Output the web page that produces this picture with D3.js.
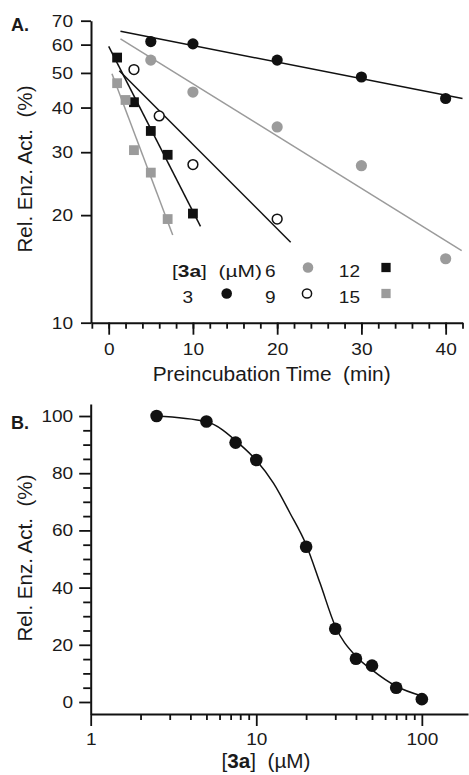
<!DOCTYPE html>
<html><head><meta charset="utf-8">
<script src="https://cdn.jsdelivr.net/npm/d3@7"></script>
<style>
body{margin:0;background:#fff}
svg{display:block}
text{font-family:"Liberation Sans",Arial,Helvetica,sans-serif;fill:#1a1a1a}
</style>
</head><body>
<svg id="chart" width="469" height="775"></svg>
<script>
// ---------- Panel A data ----------
const timeTicks = [0, 10, 20, 30, 40];
const timeMinorTicks = d3.range(-2, 43, 2);
const actTicksA = [10, 20, 30, 40, 50, 60, 70];
const concLabels = ["3", "6", "9", "12", "15"];
const seriesTime = [
  [5, 10, 20, 30, 40],
  [5, 10, 20, 30, 40],
  [3, 6, 10, 20],
  [1, 3, 5, 7, 10],
  [1, 2, 3, 5, 7]
];
const seriesAct = [
  [61.2, 60.3, 54.3, 48.7, 42.4],
  [54.3, 44.2, 35.3, 27.5, 15.1],
  [51.1, 37.9, 27.7, 19.5],
  [55.2, 41.4, 34.4, 29.5, 20.2],
  [46.8, 42.0, 30.4, 26.3, 19.5]
];
const fitStart = [[1.4, 65.4], [1.4, 62.3], [1.26, 50.7], [0, 59.3], [0.39, 49.7]];
const fitEnd   = [[42, 42.4], [41.9, 15.9], [21.6, 16.8], [10.9, 18.6], [7.6, 17.6]];

// ---------- Panel B data ----------
const doseTicks = [1, 10, 100];
const doseMinorTicks = [2,3,4,5,6,7,8,9,20,30,40,50,60,70,80,90];
const actTicksB = [0, 20, 40, 60, 80, 100];
const actMinorB = [5,10,15,25,30,35,45,50,55,65,70,75,85,90,95];
const doseConc = [2.5, 5, 7.5, 10, 20, 30, 40, 50, 70, 100];
const doseAct  = [100, 98.1, 90.7, 84.6, 54.3, 25.6, 15.1, 12.7, 5.0, 1.0];
const fitConc = [2.5, 5, 8, 10, 12.7, 16, 20, 24.3, 30, 40, 50, 70, 100];
const fitAct  = [100, 98, 90, 84.5, 76.5, 66, 55, 41.5, 26.5, 16, 11.2, 5.5, 2.1];

// ---------- styles ----------
const BLACK = "#111", GRAY = "#9b9b9b";
const markerStyle = [
  {shape: "circle", fill: BLACK, stroke: "none"},
  {shape: "circle", fill: GRAY, stroke: "none"},
  {shape: "circle", fill: "#fff", stroke: BLACK},
  {shape: "square", fill: BLACK, stroke: "none"},
  {shape: "square", fill: GRAY, stroke: "none"}
];
const lineColor = [BLACK, GRAY, BLACK, BLACK, GRAY];
const NUM_FS = 17, NUM_STRETCH = 1.12;

const svg = d3.select("#chart");

function stretch(sel, factor) {
  sel.each(function () {
    const w = this.getComputedTextLength();
    d3.select(this).attr("textLength", w * factor).attr("lengthAdjust", "spacingAndGlyphs");
  });
}
function fitWidth(sel, width) {
  sel.attr("textLength", width).attr("lengthAdjust", "spacingAndGlyphs");
}

function drawMarker(g, shape, x, y, st, r) {
  if (shape === "circle") {
    g.append("circle").attr("cx", x).attr("cy", y)
      .attr("r", st.stroke === "none" ? r : r - 0.7)
      .attr("fill", st.fill).attr("stroke", st.stroke).attr("stroke-width", 1.5);
  } else {
    const s = r * 1.75;
    g.append("rect").attr("x", x - s / 2).attr("y", y - s / 2)
      .attr("width", s).attr("height", s).attr("fill", st.fill);
  }
}
function styleNumText(sel) {
  sel.attr("font-size", NUM_FS).attr("fill", "#1a1a1a").attr("font-family", null);
  stretch(sel, NUM_STRETCH);
}

// ================= PANEL A =================
const xA = d3.scaleLinear().domain([-2.1, 42]).range([91, 462.5]);
const yA = d3.scaleLog().domain([10, 70]).range([322.7, 20.7]);

const gA = svg.append("g");
const axXA = gA.append("g").attr("transform", "translate(0,322.7)")
  .call(d3.axisBottom(xA).tickValues(timeMinorTicks).tickSize(6).tickFormat(""));
axXA.select(".domain").remove();
axXA.selectAll("line").attr("stroke-width", 1.8).attr("stroke", BLACK);
const axXA2 = gA.append("g").attr("transform", "translate(0,322.7)")
  .call(d3.axisBottom(xA).tickValues(timeTicks).tickSize(12).tickPadding(8).tickSizeOuter(0));
axXA2.select(".domain").attr("stroke-width", 2).attr("stroke", BLACK);
axXA2.selectAll("line").attr("stroke-width", 1.8).attr("stroke", BLACK);
styleNumText(axXA2.selectAll("text"));

const axYA = gA.append("g").attr("transform", "translate(91,0)")
  .call(d3.axisLeft(yA).tickValues(actTicksA).tickFormat(d3.format("d")).tickSize(10).tickPadding(8).tickSizeOuter(0));
axYA.select(".domain").attr("stroke-width", 2).attr("stroke", BLACK);
axYA.selectAll("line").attr("stroke-width", 1.8).attr("stroke", BLACK);
styleNumText(axYA.selectAll("text"));

const lineA = d3.line().x(d => xA(d[0])).y(d => yA(d[1]));
concLabels.forEach((c, i) => {
  gA.append("path").attr("d", lineA([fitStart[i], fitEnd[i]]))
    .attr("fill", "none").attr("stroke", lineColor[i]).attr("stroke-width", 1.5);
});
concLabels.forEach((c, i) => {
  const st = markerStyle[i];
  seriesTime[i].forEach((t, j) => {
    drawMarker(gA, st.shape, xA(t), yA(seriesAct[i][j]), st, 5.6);
  });
});

fitWidth(gA.append("text").attr("x", 271.7).attr("y", 381).attr("text-anchor", "middle")
  .attr("font-size", 20).text("Preincubation Time\u00a0\u00a0(min)"), 238);
fitWidth(gA.append("text").attr("transform", "translate(31.5,169) rotate(-90)").attr("text-anchor", "middle")
  .attr("font-size", 20).text("Rel. Enz. Act.\u00a0\u00a0(%)"), 167);
gA.append("text").attr("x", 11).attr("y", 31).attr("font-size", 18).attr("font-weight", "bold").text("A.");

// legend
const leg = gA.append("g");
const legHead = leg.append("text").attr("x", 172).attr("y", 277).attr("font-size", 17);
legHead.append("tspan").text("[");
legHead.append("tspan").attr("font-weight", "bold").text("3a");
legHead.append("tspan").text("]\u00a0\u00a0(\u00b5M)");
fitWidth(legHead, 90);
const legPos = [
  {tx: 193, mx: 226.7, y: 303},
  {tx: 275.5, mx: 308, y: 277},
  {tx: 275.5, mx: 307, y: 303},
  {tx: 360, mx: 386, y: 277},
  {tx: 360, mx: 386, y: 303}
];
concLabels.forEach((c, i) => {
  const p = legPos[i];
  const t = leg.append("text").attr("x", p.tx).attr("y", p.y).attr("text-anchor", "end").text(c);
  styleNumText(t);
  drawMarker(leg, markerStyle[i].shape, p.mx, p.y - 9.5, markerStyle[i], 5.3);
});

// ================= PANEL B =================
const xB = d3.scaleLog().domain([1, 190]).range([90.7, 468]);
const yB = d3.scaleLinear().domain([-4.2, 104.2]).range([714, 404]);
const gB = svg.append("g");

const axXBm = gB.append("g").attr("transform", "translate(0,714)")
  .call(d3.axisBottom(xB).tickValues(doseMinorTicks).tickSize(6).tickFormat(""));
axXBm.select(".domain").remove();
axXBm.selectAll("line").attr("stroke-width", 1.8).attr("stroke", BLACK);
const axXB = gB.append("g").attr("transform", "translate(0,714)")
  .call(d3.axisBottom(xB).tickValues(doseTicks).tickFormat(d3.format("d")).tickSize(12).tickPadding(7).tickSizeOuter(0));
axXB.select(".domain").attr("stroke-width", 2).attr("stroke", BLACK);
axXB.selectAll("line").attr("stroke-width", 1.8).attr("stroke", BLACK);
styleNumText(axXB.selectAll("text"));

const axYBm = gB.append("g").attr("transform", "translate(90.7,0)")
  .call(d3.axisLeft(yB).tickValues(actMinorB).tickSize(7.5).tickFormat(""));
axYBm.select(".domain").remove();
axYBm.selectAll("line").attr("stroke-width", 1.8).attr("stroke", BLACK);
const axYB = gB.append("g").attr("transform", "translate(90.7,0)")
  .call(d3.axisLeft(yB).tickValues(actTicksB).tickSize(11.5).tickPadding(6).tickSizeOuter(0));
axYB.select(".domain").attr("stroke-width", 2).attr("stroke", BLACK);
axYB.selectAll("line").attr("stroke-width", 1.8).attr("stroke", BLACK);
styleNumText(axYB.selectAll("text"));

const lineB = d3.line().x(d => xB(d[0])).y(d => yB(d[1])).curve(d3.curveMonotoneX);
gB.append("path").attr("d", lineB(fitConc.map((c, i) => [c, fitAct[i]])))
  .attr("fill", "none").attr("stroke", BLACK).attr("stroke-width", 1.5);
doseConc.forEach((c, i) => {
  gB.append("circle").attr("cx", xB(c)).attr("cy", yB(doseAct[i])).attr("r", 6.3).attr("fill", BLACK);
});

const xtB = gB.append("text").attr("x", 266).attr("y", 768).attr("text-anchor", "middle").attr("font-size", 20);
xtB.append("tspan").text("[");
xtB.append("tspan").attr("font-weight", "bold").text("3a");
xtB.append("tspan").text("]\u00a0\u00a0(\u00b5M)");
fitWidth(xtB, 89);
fitWidth(gB.append("text").attr("transform", "translate(31.5,558) rotate(-90)").attr("text-anchor", "middle")
  .attr("font-size", 20).text("Rel. Enz. Act.\u00a0\u00a0(%)"), 167);
gB.append("text").attr("x", 11).attr("y", 428.5).attr("font-size", 18).attr("font-weight", "bold").text("B.");
</script>
</body></html>
